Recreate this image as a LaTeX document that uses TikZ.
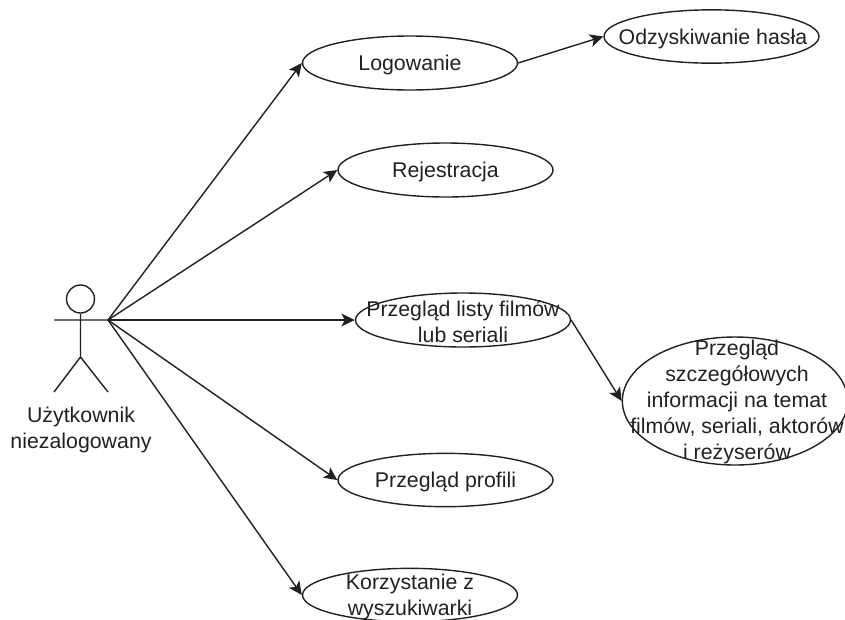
\documentclass[tikz,border=0pt]{standalone}
\usepackage{fontspec}
\setmainfont{Liberation Sans}
\usetikzlibrary{shapes.geometric,arrows.meta}
\definecolor{ink}{gray}{0.13}
\tikzset{
  x=0.75pt,y=-0.75pt,
  usecase/.style={ellipse,draw=ink,line width=1.05pt,inner sep=0pt,minimum width=#1},
  usecase/.default={161.25pt},
  txt/.style={text=ink,font=\fontsize{16}{19.5}\selectfont,align=center,inner sep=0pt,yshift=-1.5pt},
  conn/.style={draw=ink,line width=1.05pt,-{Stealth[length=10pt,width=9.5pt,inset=2.5pt]}},
  stick/.style={draw=ink,line width=1.05pt}
}
\begin{document}
\begin{tikzpicture}
\useasboundingbox (0,0) rectangle (845,619);
\clip (0,0) rectangle (845,619);
% actor
\node[circle,stick,minimum size=21pt,inner sep=0pt] (head) at (80.5,299) {};
\coordinate (armL) at (54,320);
\coordinate (hand) at (108,320);
\coordinate (hip) at (80.5,357);
\coordinate (legL) at (54,392);
\coordinate (legR) at (108,392);
\draw[stick] (head.south) -- (hip) (armL) -- (hand) (legL) -- (hip) -- (legR);
\node[txt] (actorlabel) at (81,428) {Użytkownik\\niezalogowany};
% use cases
\node[usecase,minimum height=40.5pt] (log) at (410,63) {};
\node[txt] (logt) at (log) {Logowanie};
\node[usecase,minimum height=40pt] (odz) at (711.5,36.5) {};
\node[txt] (odzt) at (713,36.5) {Odzyskiwanie hasła};
\node[usecase,minimum height=40.5pt] (rej) at (445.5,170) {};
\node[txt] (rejt) at (rej) {Rejestracja};
\node[usecase,minimum height=40.5pt] (lis) at (463,320) {};
\node[txt] (list) at (lis) {Przegląd listy filmów\\lub seriali};
\node[usecase,minimum width=169pt,minimum height=96pt] (szc) at (735,401) {};
\node[txt] (szct) at (737,400) {Przegląd\\szczegółowych\\informacji na temat\\filmów, seriali, aktorów\\i reżyserów};
\node[usecase,minimum height=40pt] (pro) at (445.5,480) {};
\node[txt] (prot) at (pro) {Przegląd profili};
\node[usecase,minimum height=40pt] (kor) at (410,595) {};
\node[txt] (kort) at (kor) {Korzystanie z\\wyszukiwarki};
% connectors
\draw[conn] (hand) -- (log.west);
\draw[conn] (hand) -- (rej.west);
\draw[conn] (hand) -- (lis.west);
\draw[conn] (hand) -- (pro.west);
\draw[conn] (hand) -- (kor.west);
\draw[conn] (log.east) -- (odz.west);
\draw[conn] (lis.east) -- (szc.west);
\end{tikzpicture}
\end{document}
